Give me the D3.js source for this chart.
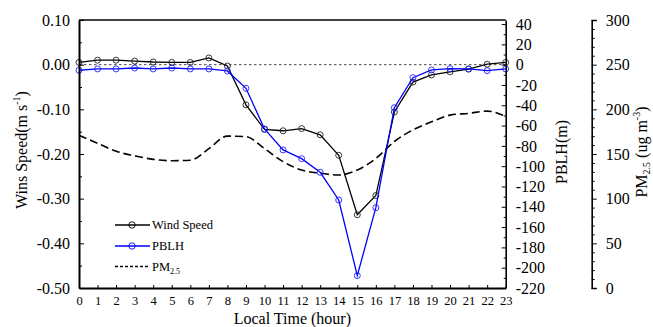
<!DOCTYPE html>
<html>
<head>
<meta charset="utf-8">
<script src="https://cdn.jsdelivr.net/npm/d3@7"></script>
<style>
  html, body { margin: 0; padding: 0; background: #fff; }
  svg, svg text { font-family: "Liberation Serif", "Times New Roman", Tinos, "DejaVu Serif", serif; }
</style>
</head>
<body>
<svg id="chart" width="653" height="327"></svg>
<script>
// Hourly composite (0–23 h local time)
const hours = d3.range(0, 24);
const windSpeed = [0.005, 0.010, 0.010, 0.008, 0.006, 0.005, 0.005, 0.015, -0.003, -0.090,
                   -0.145, -0.148, -0.143, -0.157, -0.203, -0.336, -0.293, -0.106, -0.039, -0.023,
                   -0.016, -0.010, 0.001, 0.005];
const pblh = [-5.5, -4.2, -4.2, -3.3, -4.2, -3.3, -4.2, -4.2, -6.2, -23.3,
              -63.3, -84.0, -92.6, -106.0, -133.3, -207.8, -140.9, -42.4, -12.8, -5.2,
              -3.9, -4.2, -5.9, -4.2];
const pm25 = [171, 162, 153, 148, 144, 142.5, 143, 156, 170, 169.5,
              156, 141.5, 132, 128.5, 126.5, 132, 145, 164, 177, 186,
              193.5, 195.5, 198, 192];

// Tick values for the three vertical axes and the time axis
const windTicks = [-0.5, -0.4, -0.3, -0.2, -0.1, 0.0, 0.1];
const pblhTicks = d3.range(-220, 41, 20);
const pmTicks = [0, 50, 100, 150, 200, 250, 300];
const hourTicks = hours;

const FONT = "'Liberation Serif', 'Times New Roman', Tinos, 'DejaVu Serif', serif";

const svg = d3.select("#chart").attr("font-family", FONT);
const L = 79, R = 505.7, T = 20, B = 288;

const x = d3.scaleLinear().domain([0, 23]).range([L, R]);
const yW = d3.scaleLinear().domain([-0.5, 0.1]).range([B, T]);
const yP = d3.scaleLinear().domain([-220, 44]).range([B, T]);
const yM = d3.scaleLinear().domain([0, 300]).range([B, T]);

const fmtW = d => (Math.abs(d) < 1e-9 ? 0 : d).toFixed(2);

// zero reference line
svg.append("line")
  .attr("x1", L).attr("x2", R)
  .attr("y1", yW(0)).attr("y2", yW(0))
  .attr("stroke", "#333").attr("stroke-width", 0.9)
  .attr("stroke-dasharray", "2.5,2.5");

// PM2.5 dashed curve
svg.append("path")
  .datum(pm25)
  .attr("fill", "none")
  .attr("stroke", "#000")
  .attr("stroke-width", 1.6)
  .attr("stroke-dasharray", "8,4")
  .attr("d", d3.line().x((d, i) => x(hours[i])).y(d => yM(d)).curve(d3.curveMonotoneX));

// Wind speed series
svg.append("path")
  .datum(windSpeed)
  .attr("fill", "none").attr("stroke", "#000").attr("stroke-width", 1.3)
  .attr("d", d3.line().x((d, i) => x(hours[i])).y(d => yW(d)));
svg.append("g").selectAll("circle").data(windSpeed).join("circle")
  .attr("cx", (d, i) => x(hours[i])).attr("cy", d => yW(d)).attr("r", 3)
  .attr("fill", "none").attr("stroke", "#222").attr("stroke-width", 0.9);

// PBLH series
svg.append("path")
  .datum(pblh)
  .attr("fill", "none").attr("stroke", "#0000ff").attr("stroke-width", 1.3)
  .attr("d", d3.line().x((d, i) => x(hours[i])).y(d => yP(d)));
svg.append("g").selectAll("circle").data(pblh).join("circle")
  .attr("cx", (d, i) => x(hours[i])).attr("cy", d => yP(d)).attr("r", 3)
  .attr("fill", "none").attr("stroke", "#2020ff").attr("stroke-width", 0.9);

// frame top line
svg.append("line").attr("x1", L).attr("x2", R).attr("y1", T).attr("y2", T)
  .attr("stroke", "#000").attr("stroke-width", 1.6);

function styleAxis(g, fs) {
  g.attr("font-family", FONT).attr("font-size", fs);
  g.selectAll("text").attr("font-size", fs).attr("fill", "#000")
    .attr("font-family", FONT);
  g.selectAll("line").attr("stroke", "#000");
}

// left axis (wind speed)
const gL = svg.append("g").attr("transform", `translate(${L},0)`)
  .call(d3.axisLeft(yW).tickValues(windTicks).tickFormat(fmtW)
    .tickSizeInner(-5).tickSizeOuter(0).tickPadding(9));
gL.select(".domain").attr("stroke-width", 2);
styleAxis(gL, 16);
svg.append("g").attr("transform", `translate(${L},0)`)
  .call(d3.axisLeft(yW).tickValues(d3.range(-0.45, 0.1, 0.1)).tickFormat("")
    .tickSizeInner(-3).tickSizeOuter(0))
  .call(g => g.select(".domain").remove());

// bottom axis (hour)
const gB = svg.append("g").attr("transform", `translate(0,${B})`)
  .call(d3.axisBottom(x).tickValues(hourTicks).tickFormat(d3.format("d"))
    .tickSizeInner(-3).tickSizeOuter(0).tickPadding(8));
gB.select(".domain").attr("stroke-width", 2);
styleAxis(gB, 12.5);

// right axis (PBLH)
const gR = svg.append("g").attr("transform", `translate(${R},0)`)
  .call(d3.axisRight(yP).tickValues(pblhTicks).tickFormat(d => String(d))
    .tickSizeInner(-4).tickSizeOuter(0).tickPadding(10));
gR.select(".domain").attr("stroke-width", 1.6);
styleAxis(gR, 16);
svg.append("g").attr("transform", `translate(${R},0)`)
  .call(d3.axisRight(yP).tickValues(d3.range(-210, 41, 20)).tickFormat("")
    .tickSizeInner(-2).tickSizeOuter(0))
  .call(g => g.select(".domain").remove());

// far right axis (PM2.5)
const PX = 591.7;
const gM = svg.append("g").attr("transform", `translate(${PX},0)`)
  .call(d3.axisRight(yM).tickValues(pmTicks).tickFormat(d => String(d))
    .tickSizeInner(5).tickSizeOuter(5).tickPadding(9));
gM.select(".domain").attr("stroke-width", 1.6);
styleAxis(gM, 16);
svg.append("g").attr("transform", `translate(${PX},0)`)
  .call(d3.axisRight(yM).tickValues(d3.range(0, 301, 10).filter(v => v % 50 !== 0)).tickFormat("")
    .tickSizeInner(3).tickSizeOuter(0))
  .call(g => g.select(".domain").remove());

// axis titles
const leftTitle = svg.append("text")
  .attr("transform", "translate(27,150) rotate(-90)")
  .attr("text-anchor", "middle").attr("font-size", 16).attr("font-family", FONT);
leftTitle.append("tspan").text("Wins Speed(m s");
leftTitle.append("tspan").attr("font-size", 10).attr("dy", -7).text("-1");
leftTitle.append("tspan").attr("dy", 7).text(")");

svg.append("text")
  .attr("transform", "translate(567,152) rotate(-90)")
  .attr("text-anchor", "middle").attr("font-size", 16).attr("font-family", FONT)
  .text("PBLH(m)");

const pmTitle = svg.append("text")
  .attr("transform", "translate(647,152) rotate(-90)")
  .attr("text-anchor", "middle").attr("font-size", 16).attr("font-family", FONT);
pmTitle.append("tspan").text("PM");
pmTitle.append("tspan").attr("font-size", 10).attr("dy", 3).text("2.5");
pmTitle.append("tspan").attr("dy", -3).text(" (ug m");
pmTitle.append("tspan").attr("font-size", 10).attr("dy", -7).text("-3");
pmTitle.append("tspan").attr("dy", 7).text(")");

svg.append("text")
  .attr("x", (L + R) / 2).attr("y", 324)
  .attr("text-anchor", "middle").attr("font-size", 16).attr("font-family", FONT)
  .text("Local Time (hour)");

// legend
const legendItems = [
  { label: "Wind Speed", color: "#000", marker: true, dash: null, y: 225 },
  { label: "PBLH", color: "#0000ff", marker: true, dash: null, y: 246 },
  { label: "PM", sub: "2.5", color: "#000", marker: false, dash: "3,2", y: 266.5 }
];
const lg = svg.append("g").attr("font-family", FONT);
legendItems.forEach(it => {
  lg.append("line").attr("x1", 115).attr("x2", 150).attr("y1", it.y).attr("y2", it.y)
    .attr("stroke", it.color).attr("stroke-width", it.marker ? 1.3 : 1.4)
    .attr("stroke-dasharray", it.dash);
  if (it.marker) {
    lg.append("circle").attr("cx", 132).attr("cy", it.y).attr("r", 3.2)
      .attr("fill", "none").attr("stroke", it.color).attr("stroke-width", 0.9);
  }
  const t = lg.append("text").attr("x", 152).attr("y", it.y + 4).attr("font-size", 12.5);
  t.append("tspan").text(it.label);
  if (it.sub) t.append("tspan").attr("font-size", 8).attr("dy", 3).text(it.sub);
});
</script>
</body>
</html>
